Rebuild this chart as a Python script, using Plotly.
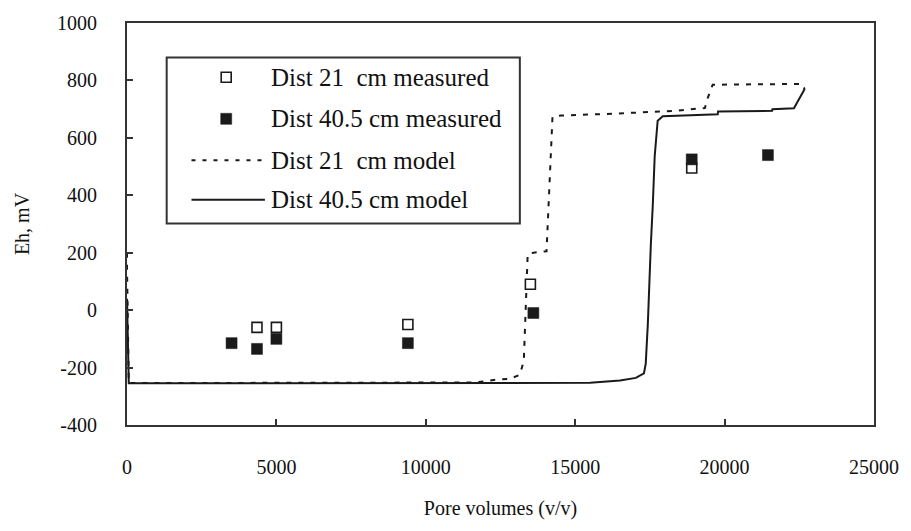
import plotly.graph_objects as go

# ---------------- data ----------------
meas21_x = [4350, 5000, 9400, 13500, 18900]
meas21_y = [-60, -60, -50, 90, 495]

meas40_x = [3500, 4350, 5000, 9400, 13600, 18900, 21450]
meas40_y = [-115, -135, -100, -115, -10, 525, 540]

model21_x = [0, 0, 60, 1000, 5000, 10400, 11600, 12000, 12400, 12800, 13150, 13280,
             13350, 13410, 13600, 14040, 14240, 14540, 16000, 18340, 19340, 19440,
             19600, 22580, 22680]
model21_y = [200, 150, -254, -254, -254, -254, -252, -248, -241, -240, -225, -176,
             55, 195, 200, 205, 673, 678, 683, 694, 704, 740,
             785, 788, 770]

model40_x = [0, 60, 2000, 8000, 15500, 16500, 17030, 17300, 17360, 17430, 17470,
             17530, 17600, 17660, 17760, 17930, 18630, 19770, 19780, 21590, 21600,
             22320, 22680]
model40_y = [40, -255, -255, -255, -253, -245, -236, -220, -187, -50, 88,
             225, 374, 535, 660, 675, 678, 682, 692, 694, 700,
             703, 770]

legend_labels = ["Dist 21  cm measured", "Dist 40.5 cm measured",
                 "Dist 21  cm model", "Dist 40.5 cm model"]

x_ticks = [0, 5000, 10000, 15000, 20000, 25000]
y_ticks = [-400, -200, 0, 200, 400, 600, 800, 1000]

# ---------------- figure ----------------
FONT = "Liberation Serif, Times New Roman, serif"
INK = "#1a1a1a"

fig = go.Figure()
fig.add_trace(go.Scatter(x=model21_x, y=model21_y, mode="lines", name=legend_labels[2],
                         line=dict(color=INK, width=2, dash="5px,7px"), showlegend=False))
fig.add_trace(go.Scatter(x=model40_x, y=model40_y, mode="lines", name=legend_labels[3],
                         line=dict(color=INK, width=2), showlegend=False))
fig.add_trace(go.Scatter(x=meas21_x, y=meas21_y, mode="markers", name=legend_labels[0],
                         marker=dict(symbol="square", size=10, color="white",
                                     line=dict(color=INK, width=1.6)), showlegend=False))
fig.add_trace(go.Scatter(x=meas40_x, y=meas40_y, mode="markers", name=legend_labels[1],
                         marker=dict(symbol="square", size=11, color=INK,
                                     line=dict(color=INK, width=0.5)), showlegend=False))

# plot area geometry (px)
L, R, T, B = 127, 880, 18, 425
W, H = R - L, B - T

def px(xp):
    return (xp - L) / W

def py(yp):
    return (B - yp) / H

shapes = []
annotations = []
# legend box
shapes.append(dict(type="rect", xref="paper", yref="paper", x0=px(167), x1=px(523),
                   y0=py(221), y1=py(53), line=dict(color="#333333", width=2),
                   fillcolor="white", layer="above"))
rows = [73, 115, 157, 197]
# marker samples
shapes.append(dict(type="rect", xref="paper", yref="paper", xsizemode="pixel", ysizemode="pixel",
                   xanchor=px(227), yanchor=py(rows[0]), x0=-5, x1=5, y0=-5, y1=5,
                   line=dict(color=INK, width=1.6), fillcolor="white", layer="above"))
shapes.append(dict(type="rect", xref="paper", yref="paper", xsizemode="pixel", ysizemode="pixel",
                   xanchor=px(227), yanchor=py(rows[1]), x0=-5.5, x1=5.5, y0=-5.5, y1=5.5,
                   line=dict(color=INK, width=0.5), fillcolor=INK, layer="above"))
# line samples
shapes.append(dict(type="line", xref="paper", yref="paper", x0=px(192), x1=px(266),
                   y0=py(rows[2]), y1=py(rows[2]), line=dict(color=INK, width=2, dash="4px,7px"),
                   layer="above"))
shapes.append(dict(type="line", xref="paper", yref="paper", x0=px(192), x1=px(266),
                   y0=py(rows[3]), y1=py(rows[3]), line=dict(color=INK, width=2), layer="above"))
for lab, r in zip(legend_labels, rows):
    annotations.append(dict(xref="paper", yref="paper", x=px(270), y=py(r), text=lab,
                            showarrow=False, xanchor="left", yanchor="middle",
                            font=dict(family=FONT, size=25, color="#111111")))

fig.update_layout(
    width=911, height=531,
    margin=dict(l=L, r=911 - R, t=T, b=531 - B),
    paper_bgcolor="white", plot_bgcolor="white",
    font=dict(family=FONT, size=20, color="#111111"),
    showlegend=False,
    shapes=shapes, annotations=annotations,
    xaxis=dict(range=[0, 25000], tickvals=x_ticks, ticktext=[str(v) for v in x_ticks],
               ticks="inside", ticklen=6, tickwidth=2, tickcolor="#333333",
               showline=True, linecolor="#333333", linewidth=2, mirror=True,
               showgrid=False, zeroline=False, ticklabelstandoff=23,
               title=dict(text="Pore volumes (v/v)", font=dict(family=FONT, size=20), standoff=24)),
    yaxis=dict(range=[-400, 1000], tickvals=y_ticks, ticktext=[str(v) for v in y_ticks],
               ticks="inside", ticklen=6, tickwidth=2, tickcolor="#333333",
               showline=True, linecolor="#333333", linewidth=2, mirror=True,
               showgrid=False, zeroline=False, ticklabelstandoff=24,
               title=dict(text="Eh, mV", font=dict(family=FONT, size=20), standoff=22)),
)

fig.write_html("out.html")
